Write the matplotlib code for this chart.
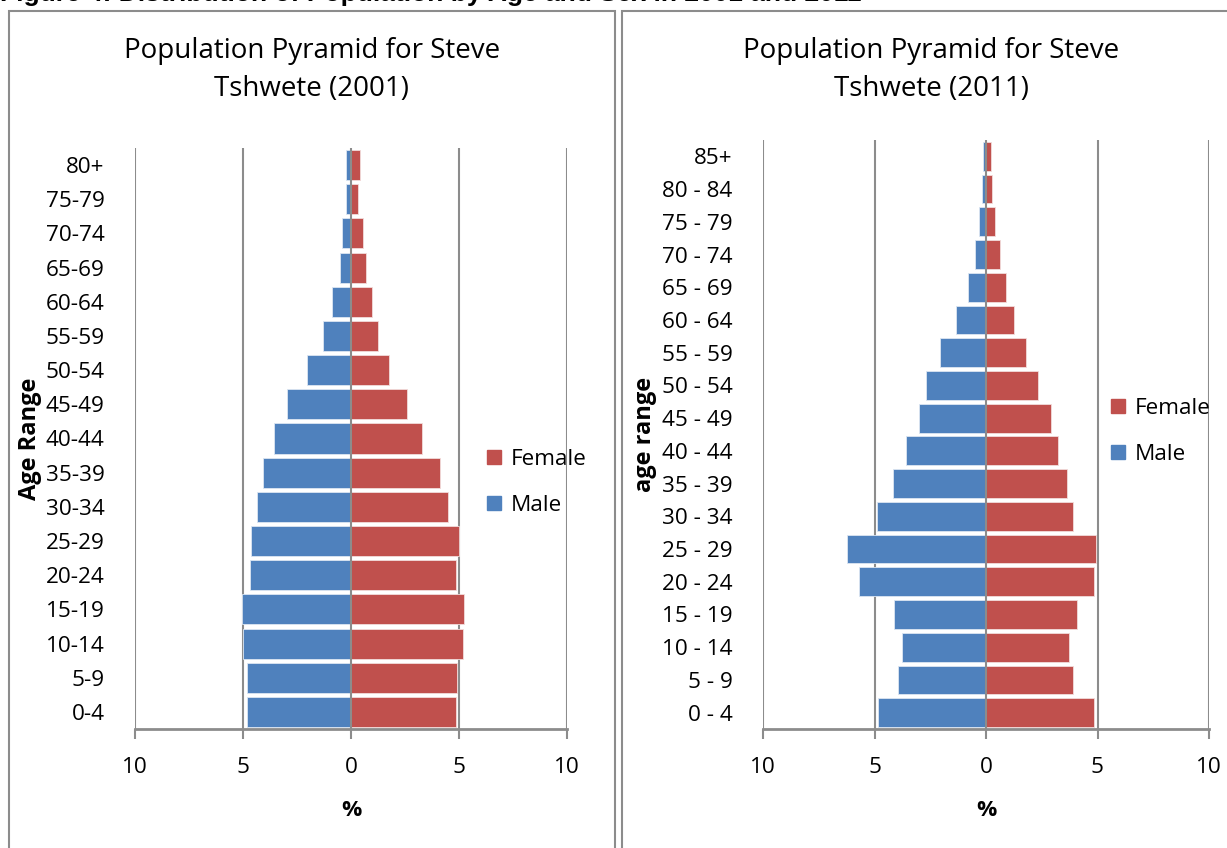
import matplotlib
matplotlib.use('Agg')
from matplotlib import pyplot as plt
from matplotlib.patches import Rectangle, Patch
import numpy as np

# Age groups, youngest first (bottom of each pyramid)
ages_2001 = ['0-4', '5-9', '10-14', '15-19', '20-24', '25-29', '30-34', '35-39',
             '40-44', '45-49', '50-54', '55-59', '60-64', '65-69', '70-74',
             '75-79', '80+']
male_2001 = [4.80, 4.83, 5.02, 5.03, 4.66, 4.63, 4.34, 4.09,
             3.58, 2.95, 2.06, 1.30, 0.90, 0.51, 0.42, 0.23, 0.23]
female_2001 = [4.86, 4.93, 5.17, 5.25, 4.86, 5.00, 4.50, 4.13,
               3.27, 2.57, 1.77, 1.23, 0.97, 0.69, 0.57, 0.31, 0.43]

ages_2011 = ['0 - 4', '5 - 9', '10 - 14', '15 - 19', '20 - 24', '25 - 29',
             '30 - 34', '35 - 39', '40 - 44', '45 - 49', '50 - 54', '55 - 59',
             '60 - 64', '65 - 69', '70 - 74', '75 - 79', '80 - 84', '85+']
male_2011 = [4.86, 3.96, 3.78, 4.14, 5.69, 6.23, 4.87, 4.18, 3.57,
             3.02, 2.69, 2.05, 1.35, 0.79, 0.51, 0.30, 0.16, 0.13]
female_2011 = [4.83, 3.92, 3.71, 4.08, 4.83, 4.92, 3.90, 3.63, 3.25,
               2.91, 2.35, 1.81, 1.24, 0.90, 0.65, 0.39, 0.27, 0.21]

x_ticks = [-10, -5, 0, 5, 10]
x_tick_labels = ['10', '5', '0', '5', '10']

BLUE = '#4F81BD'
RED = '#C0504D'
GRID = '#8C8C8C'
FONT = 'Open Sans'
TICK_SIZE = 16.2

W, H = 1227, 848
fig = plt.figure(figsize=(W / 100, H / 100), dpi=100)
plt.rcParams['font.family'] = [FONT, 'DejaVu Sans']


def px_axes(x0, y0, x1, y1):
    # axes from pixel box (top-left origin)
    return fig.add_axes([x0 / W, 1 - y1 / H, (x1 - x0) / W, (y1 - y0) / H])


def px_box(x0, y0, x1, y1):
    fig.patches.append(Rectangle((x0 / W, 1 - y1 / H), (x1 - x0) / W, (y1 - y0) / H,
                                 transform=fig.transFigure, fill=False,
                                 edgecolor=GRID, linewidth=1.5))


def pyramid(ax, ages, male, female, ylabel, ylabel_x):
    y = np.arange(len(ages))
    ax.barh(y, [-m for m in male], height=0.88, color=BLUE, edgecolor='#DCE6F2',
            linewidth=0.6, label='Male', zorder=2)
    ax.barh(y, female, height=0.88, color=RED, edgecolor='#F2DCDB',
            linewidth=0.6, label='Female', zorder=2)
    ax.set_xlim(-10, 10)
    ax.set_ylim(-0.5, len(ages) - 0.5)
    for x in x_ticks:
        ax.axvline(x, color=GRID, linewidth=1.5, zorder=1 if x != 0 else 3)
    ax.set_xticks(x_ticks)
    ax.set_xticklabels(x_tick_labels, fontsize=TICK_SIZE)
    ax.set_yticks(y)
    ax.set_yticklabels(ages, fontsize=TICK_SIZE)
    ax.tick_params(axis='y', length=0, pad=22)
    ax.tick_params(axis='x', length=7, width=1.5, color=GRID, pad=13)
    for s in ['top', 'left', 'right']:
        ax.spines[s].set_visible(False)
    ax.spines['bottom'].set_color(GRID)
    ax.spines['bottom'].set_linewidth(2)
    ax.set_xlabel('%', fontsize=TICK_SIZE, fontweight='bold', labelpad=16)
    ax.set_ylabel(ylabel, fontsize=17, fontweight='bold')
    ax.yaxis.set_label_coords(ylabel_x, 0.5)


# Chart frames
px_box(9, 11, 615, 860)
px_box(622, 11, 1240, 860)

ax1 = px_axes(135, 148, 567, 729)
pyramid(ax1, ages_2001, male_2001, female_2001, 'Age Range', (42 - 135) / 432)
ax2 = px_axes(763, 140, 1209, 729)
pyramid(ax2, ages_2011, male_2011, female_2011, 'age range', (657 - 763) / 446)

handles = [Patch(color=RED, label='Female'), Patch(color=BLUE, label='Male')]
for ax, pos in [(ax1, (487 / W, 1 - 449 / H)), (ax2, (1111 / W, 1 - 398 / H))]:
    ax.legend(handles=handles, loc='upper left', bbox_to_anchor=pos,
              bbox_transform=fig.transFigure, frameon=False, fontsize=TICK_SIZE,
              handlelength=0.6, handleheight=0.6, handletextpad=0.45,
              labelspacing=1.1, borderpad=0, borderaxespad=0)

fig.text(312 / W, 1 - 70 / H, 'Population Pyramid for Steve\nTshwete (2001)',
         ha='center', va='center', fontsize=20, linespacing=1.5)
fig.text(931 / W, 1 - 70 / H, 'Population Pyramid for Steve\nTshwete (2011)',
         ha='center', va='center', fontsize=20, linespacing=1.5)

fig.text(0, 1 - 1 / H,
         'Figure 4: Distribution of Population by Age and Sex in 2001 and 2011',
         ha='left', va='baseline', fontsize=19, fontweight='bold',
         family=['Liberation Sans', 'DejaVu Sans'])

fig.savefig('out.png', dpi=100)
